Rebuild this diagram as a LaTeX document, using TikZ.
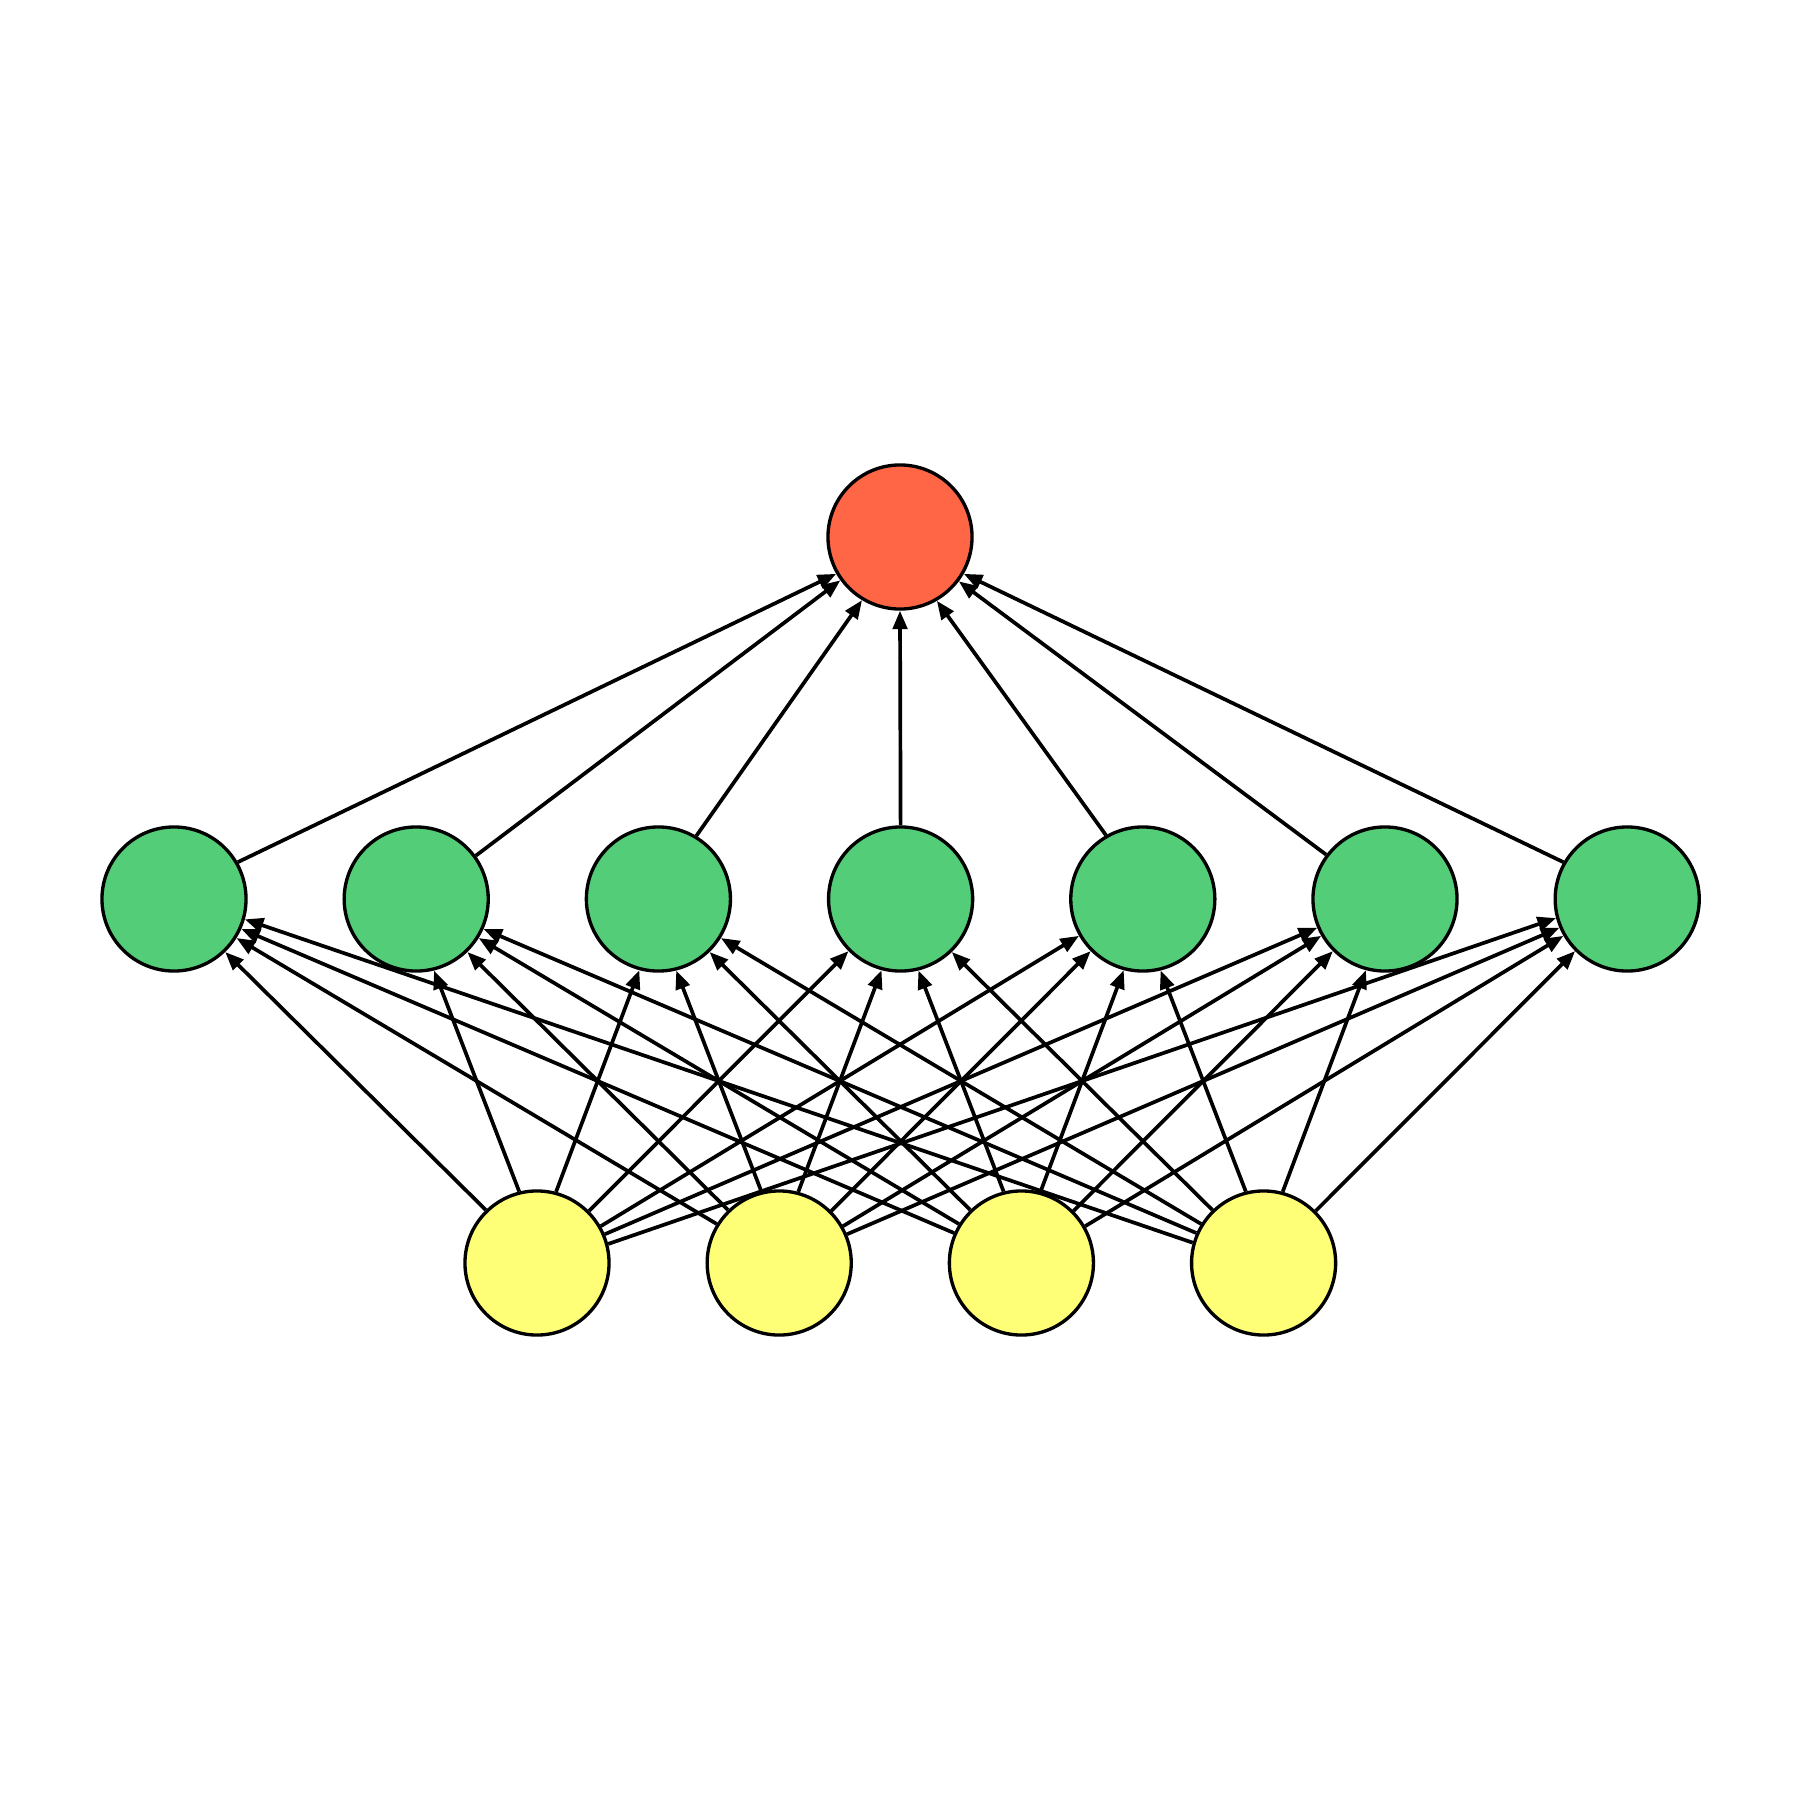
\documentclass[tikz,border=0pt]{standalone}
\usetikzlibrary{arrows.meta}
\definecolor{outcol}{HTML}{FF6645}
\definecolor{hidcol}{HTML}{54CD78}
\definecolor{incol}{HTML}{FFFF77}
\tikzset{
  neuron/.style={circle, draw=black, line width=0.95pt, minimum size=1.44cm, inner sep=0pt},
  outneuron/.style={neuron, fill=outcol},
  hidneuron/.style={neuron, fill=hidcol},
  inneuron/.style={neuron, fill=incol},
  link/.style={line width=1.05pt, -{Triangle[length=1.85mm,width=1.45mm]}}
}
\begin{document}
\begin{tikzpicture}[x=0.01cm,y=-0.01cm]
  \useasboundingbox (0,0) rectangle (1800,1800);
  % output unit
  \node[outneuron] (o) at (900,537) {};
  % hidden layer
  \foreach \i in {1,...,7} {
    \node[hidneuron] (h\i) at ({174+242.2*(\i-1)},899) {};
  }
  % input layer
  \foreach \j in {1,...,4} {
    \node[inneuron] (x\j) at ({537+242.2*(\j-1)},1263) {};
  }
  % connections input -> hidden; end points sit on the borders, slightly
  % turned from the centre line as the routed edges are
  \foreach \j in {1,...,4} {
    \foreach \i in {1,...,7} {
      \pgfmathsetmacro{\dx}{242.2*(\i-1)+174-(537+242.2*(\j-1))}
      \pgfmathsetmacro{\th}{atan2(364,\dx)}
      \pgfmathtruncatemacro{\k}{round(abs(\dx)/121.1)}
      \pgfmathsetmacro{\dl}{(\k==1)*3.5-(\k==9)*3}
      \pgfmathsetmacro{\sg}{(\dx>0)-(\dx<0)}
      \pgfmathsetmacro{\as}{\th+\dl*\sg}
      \pgfmathsetmacro{\at}{\th+180+\dl*\sg}
      \draw[link] (x\j.\as) -- (h\i.\at);
    }
  }
  % connections hidden -> output
  \foreach \i in {1,...,7} {
    \pgfmathsetmacro{\dx}{900-(174+242.2*(\i-1))}
    \pgfmathsetmacro{\th}{atan2(362,\dx)}
    \pgfmathtruncatemacro{\k}{round(abs(\dx)/242.2)}
    \pgfmathsetmacro{\dl}{((\k==1)+(\k==3))*3.5}
    \pgfmathsetmacro{\sg}{(\dx>0)-(\dx<0)}
    \pgfmathsetmacro{\as}{\th+\dl*\sg}
    \pgfmathsetmacro{\at}{\th+180+\dl*\sg}
    \draw[link] (h\i.\as) -- (o.\at);
  }
\end{tikzpicture}
\end{document}
